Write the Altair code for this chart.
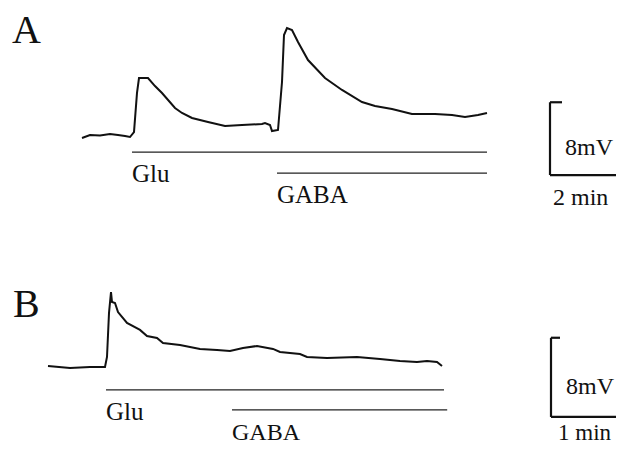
import altair as alt
import pandas as pd

# ---------------- Panel A (time in min, potential change in mV) ----------------
a_t = [0.0, 0.2, 0.45, 0.7, 0.9, 1.075, 1.2, 1.3, 1.375, 1.425, 1.65, 1.825, 2.0, 2.325, 2.5, 2.75,
       3.15, 3.575, 4.0, 4.5, 4.575, 4.7, 4.75, 4.9, 5.0, 5.05, 5.125, 5.25, 5.4,
       5.65, 6.075, 6.5, 7.0, 7.325, 7.75, 8.25, 8.825, 9.25, 9.575, 9.9, 10.125]
a_mv = [-0.33, 0.0, -0.05, 0.11, 0.0, -0.11, -0.22, 0.33, 4.62, 6.26, 6.26, 5.38, 4.62, 2.97, 2.42, 1.87,
        1.43, 0.99, 1.10, 1.21, 1.32, 1.10, 0.44, 0.55, 5.82, 10.99, 11.76, 11.54, 10.22,
        8.24, 6.26, 4.95, 3.63, 3.19, 2.86, 2.31, 2.31, 2.20, 1.98, 2.20, 2.42]

a_bar_start = [1.25, 4.875]
a_bar_end = [10.125, 10.125]
a_bar_mv = [-1.87, -4.18]

a_scale_x = [11.7, 11.7, 11.7]
a_scale_x2 = [11.7, 13.7, 12.0]
a_scale_y = [-4.4, -4.4, 3.6]
a_scale_y2 = [3.6, -4.4, 3.6]

a_text = ["A", "Glu", "GABA", "8mV", "2 min"]
a_text_t = [-1.75, 1.25, 4.875, 12.075, 11.775]
a_text_mv = [10.1, -5.16, -7.47, -2.20, -7.69]
a_text_size = [40, 25, 25, 24, 24]

a_xdom = [-1.85, 13.35]
a_ydom = [-10.77, 13.96]

# ---------------- Panel B ----------------
b_t = [0.0, 0.275, 0.525, 0.7125, 0.7375, 0.7625, 0.7875, 0.8, 0.8375, 0.875, 0.9875,
       1.15, 1.2375, 1.3625, 1.4375, 1.65, 1.9, 2.1125, 2.275, 2.4375, 2.6125, 2.8125,
       2.9, 3.15, 3.2375, 3.4875, 3.8625, 4.15, 4.4, 4.6125, 4.7375, 4.8625, 4.925]
b_mv = [0.0, -0.20, -0.10, -0.10, 0.91, 5.35, 7.47, 6.46, 6.36, 5.45, 4.34,
        3.64, 3.03, 2.83, 2.32, 2.12, 1.72, 1.62, 1.52, 1.82, 2.02, 1.72,
        1.41, 1.21, 0.91, 0.81, 0.91, 0.71, 0.51, 0.40, 0.51, 0.40, 0.0]

b_bar_start = [0.725, 2.3]
b_bar_end = [4.95, 4.99]
b_bar_mv = [-2.42, -4.44]

b_scale_x = [6.2875, 6.2875, 6.2875]
b_scale_x2 = [6.2875, 7.2875, 6.4]
b_scale_y = [-5.15, -5.15, 2.85]
b_scale_y2 = [2.85, -5.15, 2.85]

b_text = ["B", "Glu", "GABA", "8mV", "1 min"]
b_text_t = [-0.4375, 0.725, 2.3, 6.475, 6.375]
b_text_mv = [4.95, -5.45, -7.47, -2.83, -7.47]
b_text_size = [40, 25, 24, 24, 23]

b_xdom = [-0.5, 7.1]
b_ydom = [-7.88, 13.43]

FONT = "Liberation Serif"


def panel(t, mv, bs, be, bm, sx, sx2, sy, sy2, txt, tt, tm, ts, xdom, ydom, h):
    xs = alt.Scale(domain=xdom, nice=False, zero=False)
    ys = alt.Scale(domain=ydom, nice=False, zero=False)
    trace = pd.DataFrame({"t": t, "mv": mv})
    bars = pd.DataFrame({"t": bs, "t2": be, "mv": bm})
    segs = pd.DataFrame({"t": sx, "t2": sx2, "mv": sy, "mv2": sy2})
    texts = pd.DataFrame({"label": txt, "t": tt, "mv": tm, "size": ts})

    line = alt.Chart(trace).mark_line(color="#111111", strokeWidth=2, clip=True).encode(
        x=alt.X("t:Q", scale=xs, axis=None),
        y=alt.Y("mv:Q", scale=ys, axis=None),
    )
    bar = alt.Chart(bars).mark_rule(color="#222222", strokeWidth=1.3, clip=True).encode(
        x=alt.X("t:Q", scale=xs, axis=None),
        x2="t2:Q",
        y=alt.Y("mv:Q", scale=ys, axis=None),
    )
    seg = alt.Chart(segs).mark_rule(color="#111111", strokeWidth=2.2, clip=True).encode(
        x=alt.X("t:Q", scale=xs, axis=None),
        x2="t2:Q",
        y=alt.Y("mv:Q", scale=ys, axis=None),
        y2="mv2:Q",
    )
    text = alt.Chart(texts).mark_text(
        font=FONT, align="left", baseline="alphabetic", color="#111111", clip=True
    ).encode(
        x=alt.X("t:Q", scale=xs, axis=None),
        y=alt.Y("mv:Q", scale=ys, axis=None),
        text="label:N",
        size=alt.Size("size:Q", scale=None, legend=None),
    )
    return alt.layer(line, bar, seg, text).properties(width=608, height=h)


pa = panel(a_t, a_mv, a_bar_start, a_bar_end, a_bar_mv,
           a_scale_x, a_scale_x2, a_scale_y, a_scale_y2,
           a_text, a_text_t, a_text_mv, a_text_size, a_xdom, a_ydom, 225)
pb = panel(b_t, b_mv, b_bar_start, b_bar_end, b_bar_mv,
           b_scale_x, b_scale_x2, b_scale_y, b_scale_y2,
           b_text, b_text_t, b_text_mv, b_text_size, b_xdom, b_ydom, 211)

chart = alt.vconcat(pa, pb, spacing=0).properties(
    padding=0, background="white"
).configure_view(stroke=None)

chart.save("out.html", embed_options={"renderer": "svg", "actions": False})
